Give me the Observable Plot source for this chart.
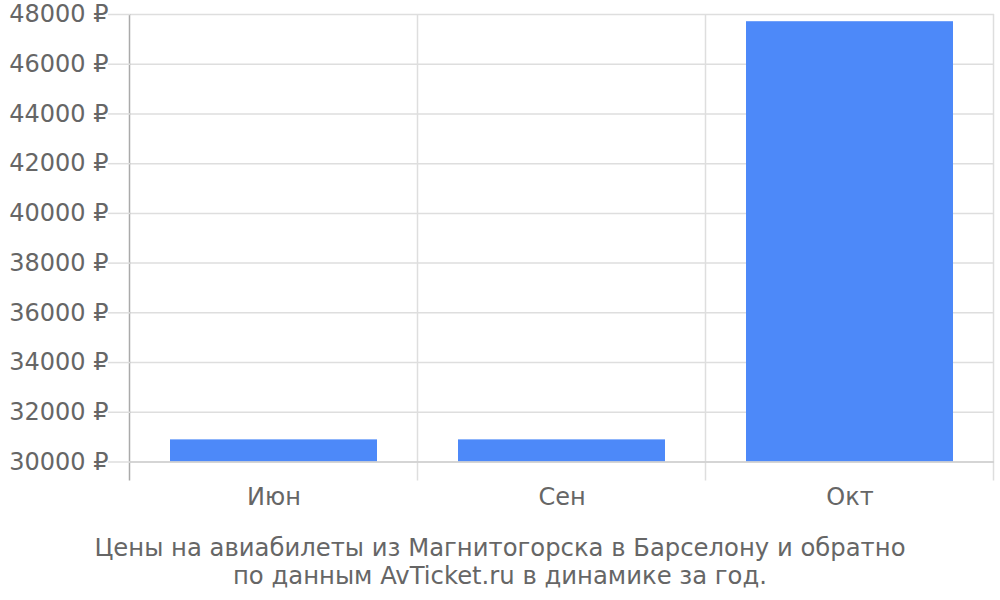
<!DOCTYPE html>
<html>
<head>
<meta charset="utf-8">
<script src="https://cdn.jsdelivr.net/npm/d3@7"></script>
<script src="https://cdn.jsdelivr.net/npm/@observablehq/plot@0.6"></script>
<style>
  html, body { margin: 0; padding: 0; background: #fff; }
  #chart svg { display: block; }
  #caption {
    font-family: "DejaVu Sans", sans-serif;
    font-size: 24.3px;
    color: #666;
    text-align: center;
    line-height: 28px;
    margin-top: 14px;
    width: 1000px;
  }
</style>
</head>
<body>
<div id="chart"></div>
<div id="caption">Цены на авиабилеты из Магнитогорска в Барселону и обратно<br>по данным AvTicket.ru в динамике за год.</div>
<script>
const months = ["Июн", "Сен", "Окт"];
const prices = [30890, 30890, 47710];
const yTicks = [30000, 32000, 34000, 36000, 38000, 40000, 42000, 44000, 46000, 48000];

const data = months.map((m, i) => ({month: m, price: prices[i]}));

const W = 1000, H = 520;
const mTop = 14, mBottom = 58.5, mLeft = 130, mRight = 6;

// vertical band-boundary lines drawn from the x scale
function bandLines(index, scales, values, dimensions) {
  const x = scales.x;
  const bw = x.bandwidth();
  const step = x.step ? x.step() : bw;
  const half = (step - bw) / 2;
  const g = d3.create("svg:g");
  const y1 = dimensions.marginTop;
  const y2 = dimensions.height - dimensions.marginBottom + 19;
  const xs = months.map(m => x(m) - half).concat([x(months[months.length - 1]) + bw + half]);
  xs.forEach((xx, i) => {
    g.append("line")
      .attr("x1", xx).attr("x2", xx)
      .attr("y1", y1).attr("y2", y2)
      .attr("stroke", i === 0 ? "#aaa" : "#dedede")
      .attr("stroke-width", 1.5);
  });
  return g.node();
}

const chart = Plot.plot({
  width: W,
  height: H,
  marginTop: mTop,
  marginBottom: mBottom,
  marginLeft: mLeft,
  marginRight: mRight,
  style: {fontFamily: "DejaVu Sans, sans-serif", fontSize: "24px", color: "#666", background: "#fff"},
  x: {domain: months, paddingInner: 0.28, paddingOuter: 0.14, label: null},
  y: {domain: [30000, 48000], label: null},
  marks: [
    Plot.gridY(yTicks, {stroke: "#dedede", strokeOpacity: 1, strokeWidth: 1.5}),
    bandLines,
    Plot.barY(data, {x: "month", y1: 30000, y2: "price", fill: "#4d89f9"}),
    Plot.ruleY([30000], {stroke: "#cfcfcf", strokeWidth: 1.5}),
    Plot.axisY(yTicks, {tickSize: 22, tickPadding: 0, stroke: "#dedede", strokeWidth: 1.5, strokeOpacity: 1, tickFormat: d => d + " ₽", fill: "#666", fontSize: 24}),
    Plot.axisX({tickSize: 0, tickPadding: 26, fill: "#666", fontSize: 24})
  ]
});
document.getElementById("chart").appendChild(chart);
</script>
</body>
</html>
